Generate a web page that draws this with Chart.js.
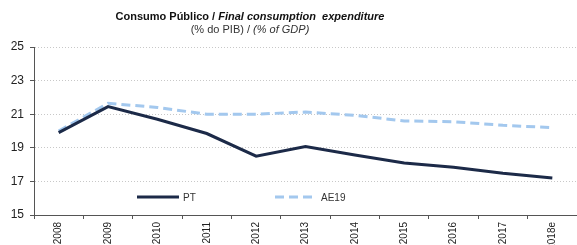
<!DOCTYPE html>
<html>
<head>
<meta charset="utf-8">
<script src="https://cdn.jsdelivr.net/npm/chart.js@4.4.0/dist/chart.umd.min.js"></script>
<style>
  body { margin: 0; background: #fff; }
  #wrap { position: relative; width: 577px; height: 245px; }
  #chart { display: block; }
  #title { position: absolute; left: 0; top: 10px; width: 500px; text-align: center;
           font-family: "Liberation Sans", Arial, sans-serif; color: #111; }
  #title .t1 { font-size: 11px; font-weight: bold; line-height: 13px; white-space: pre; }
  #title .t2 { font-size: 11px; line-height: 13px; color: #333; }
</style>
</head>
<body>
<div id="wrap">
  <canvas id="chart" width="577" height="245"></canvas>
  <div id="title"><div class="t1">Consumo Público / <i>Final consumption  expenditure</i></div><div class="t2">(% do PIB) / <i>(% of GDP)</i></div></div>
</div>
<script>
const years = ["2008","2009","2010","2011","2012","2013","2014","2015","2016","2017","2018e"];
const pt_values = [19.9, 21.45, 20.7, 19.85, 18.5, 19.07, 18.57, 18.1, 17.84, 17.48, 17.2];
const ae19_values = [20.0, 21.65, 21.4, 21.0, 21.0, 21.13, 20.93, 20.6, 20.55, 20.34, 20.2];
const y_ticks = [15, 17, 19, 21, 23, 25];

const ctx = document.getElementById("chart").getContext("2d");

// legend drawn inside the plot area
const insideLegend = {
    id: "insideLegend",
    afterDraw(chart){
        const c = chart.ctx;
        const area = chart.chartArea;
        const y = area.bottom - 18;
        const items = [
            {x: area.left + 103, ds: chart.data.datasets[0]},
            {x: area.left + 241, ds: chart.data.datasets[1]}
        ];
        c.save();
        items.forEach(it => {
            c.beginPath();
            c.strokeStyle = it.ds.borderColor;
            c.lineWidth = it.ds.borderWidth;
            c.setLineDash(it.ds.borderDash || []);
            c.moveTo(it.x, y);
            c.lineTo(it.x + 42, y);
            c.stroke();
            c.setLineDash([]);
            c.fillStyle = "#333";
            c.font = "10px 'Liberation Sans', Arial, sans-serif";
            c.textBaseline = "middle";
            c.fillText(it.ds.label, it.x + 46, y + 1);
        });
        c.restore();
    }
};

new Chart(ctx, {
    type: "line",
    data: {
        labels: years,
        datasets: [
            {
                label: "PT",
                data: pt_values,
                borderColor: "#1c2a48",
                borderWidth: 3,
                pointRadius: 0,
                tension: 0,
                fill: false
            },
            {
                label: "AE19",
                data: ae19_values,
                borderColor: "#a3c8ee",
                borderWidth: 3,
                borderDash: [9, 5],
                pointRadius: 0,
                tension: 0,
                fill: false
            }
        ]
    },
    options: {
        responsive: false,
        animation: false,
        layout: { padding: { top: 47, left: 3, right: 0, bottom: 0 } },
        plugins: {
            legend: { display: false },
            tooltip: { enabled: false },
            title: { display: false }
        },
        scales: {
            x: {
                offset: true,
                grid: {
                    offset: true,
                    drawOnChartArea: false,
                    drawTicks: true,
                    tickLength: 4,
                    tickColor: "#555"
                },
                border: { color: "#555", width: 1 },
                ticks: {
                    minRotation: 90,
                    maxRotation: 90,
                    autoSkip: false,
                    padding: 3,
                    color: "#222",
                    font: { family: "'Liberation Sans', Arial, sans-serif", size: 10 }
                },
                afterFit(scale){ scale.height = 30; }
            },
            y: {
                min: 15,
                max: 25,
                afterBuildTicks(scale){ scale.ticks = y_ticks.map(v => ({value: v})); },
                grid: {
                    color: "#c8c8c8",
                    tickColor: "#555",
                    tickLength: 4,
                    tickBorderDash: []
                },
                border: { color: "#555", width: 1, dash: [1, 2] },
                ticks: {
                    padding: 6,
                    color: "#222",
                    font: { family: "'Liberation Sans', Arial, sans-serif", size: 12 }
                },
                afterFit(scale){ scale.width = 31; }
            }
        }
    },
    plugins: [insideLegend]
});
</script>
</body>
</html>
